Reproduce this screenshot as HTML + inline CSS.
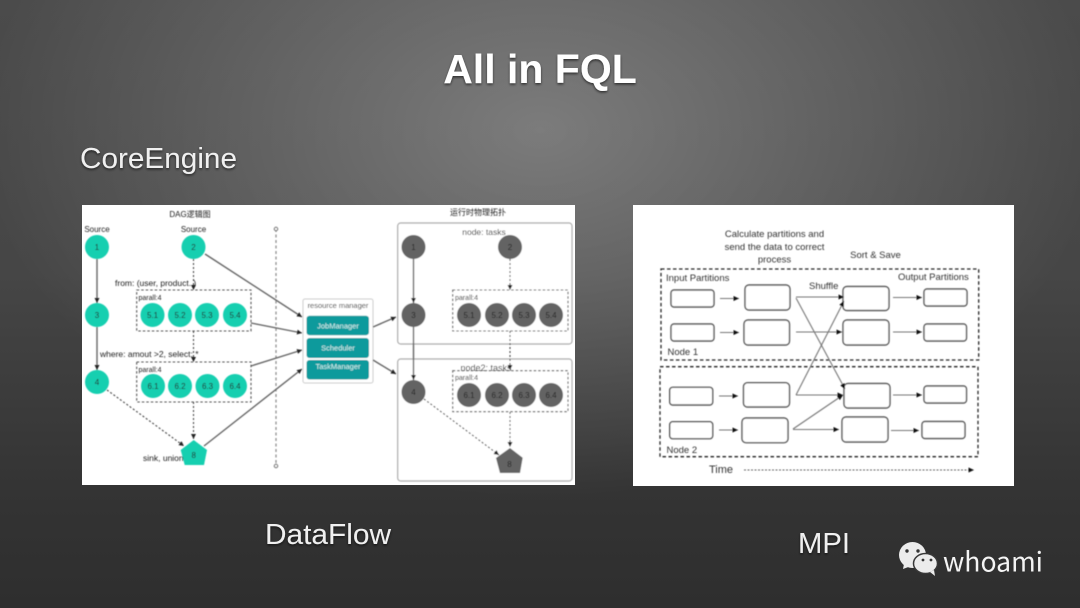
<!DOCTYPE html>
<html><head><meta charset="utf-8"><style>
html,body{margin:0;padding:0;background:#333}
svg{display:block}
text{font-family:"Liberation Sans","Noto Sans CJK SC",sans-serif}
.t{fill:#222;font-size:8px;text-anchor:middle}
.n{fill:#222;font-size:8px;text-anchor:middle}
.l{fill:#222;font-size:8.5px}
.p{fill:#222;font-size:7px}
.d{fill:none;stroke:#555;stroke-width:1.1;stroke-dasharray:2.5 2}
.a{stroke:#666;stroke-width:1.4;fill:none;marker-end:url(#ah)}
.ad{stroke:#444;stroke-width:1.1;fill:none;stroke-dasharray:2 2;marker-end:url(#ah)}
.g{fill:#16cfb0}
.k{fill:#636363}
.b{fill:#0b9a9c}
.bt{fill:#d5f2f0;font-size:7.5px;text-anchor:middle}
.r{fill:#fff;stroke:#555;stroke-width:1.4}
.m{stroke:#777;stroke-width:1.1;fill:none;marker-end:url(#am)}
.mt{fill:#333;font-size:9.5px}
.h{fill:#f0f0f0;filter:url(#sh)}
</style></head><body>
<svg width="1080" height="608" viewBox="0 0 1080 608" xmlns="http://www.w3.org/2000/svg">
<defs>
<linearGradient id="base" x1="0" y1="0" x2="0" y2="1">
<stop offset="0" stop-color="#4b4b4b"/><stop offset=".45" stop-color="#464646"/><stop offset=".8" stop-color="#343434"/><stop offset="1" stop-color="#2e2e2e"/>
</linearGradient>
<radialGradient id="bg" gradientUnits="userSpaceOnUse" cx="0" cy="0" r="1" gradientTransform="translate(540 130) scale(560 370)">
<stop offset="0" stop-color="#fff" stop-opacity=".28"/><stop offset="1" stop-color="#fff" stop-opacity="0"/>
</radialGradient>
<marker id="ah" markerWidth="6" markerHeight="6" refX="5" refY="2.5" orient="auto" markerUnits="userSpaceOnUse"><path d="M0 0L5 2.5L0 5z" fill="#222"/></marker>
<marker id="am" markerWidth="7" markerHeight="6" refX="5.5" refY="2.5" orient="auto" markerUnits="userSpaceOnUse"><path d="M0 0L5.5 2.5L0 5z" fill="#111"/></marker>
<filter id="sh" x="-10%" y="-20%" width="120%" height="150%"><feDropShadow dx="0" dy="1.5" stdDeviation="1.2" flood-color="#000" flood-opacity=".6"/></filter>
<filter id="bl"><feGaussianBlur stdDeviation=".45"/></filter>
</defs>
<rect width="1080" height="608" fill="url(#base)"/>
<rect width="1080" height="608" fill="url(#bg)"/>

<text x="540" y="83" text-anchor="middle" font-size="41" font-weight="700" class="h" style="fill:#fff">All in FQL</text>
<text x="80" y="168" font-size="29" textLength="157" lengthAdjust="spacingAndGlyphs" class="h">CoreEngine</text>
<text x="265" y="544" font-size="29" textLength="126" lengthAdjust="spacingAndGlyphs" class="h">DataFlow</text>
<text x="798" y="553" font-size="29" textLength="52" lengthAdjust="spacingAndGlyphs" class="h">MPI</text>

<rect x="82" y="205" width="493" height="280" fill="#fff"/>
<rect x="633" y="205" width="381" height="281" fill="#fff"/>

<g filter="url(#bl)">
<!-- Left DAG -->
<text x="190" y="217" class="t">DAG逻辑图</text>
<text x="97" y="232" class="t">Source</text>
<text x="193.500" y="232" class="t">Source</text>
<line x1="276" y1="229" x2="276" y2="465" stroke="#888" stroke-width="1.200" stroke-dasharray="3 2.500"/>
<circle cx="276" cy="229" r="1.700" fill="#fff" stroke="#666"/>
<circle cx="276" cy="466" r="1.700" fill="#fff" stroke="#666"/>
<path class="a" d="M97 259V303"/>
<path class="a" d="M97 327V370"/>
<path class="ad" d="M193.500 259V290"/>
<path class="ad" d="M193.500 331V362"/>
<path class="ad" d="M193.500 402V439"/>
<path class="ad" d="M107 390L184 446"/>
<path class="a" d="M205 254L302 317"/>
<path class="a" d="M251 323L302 333"/>
<path class="a" d="M251 366L302 350"/>
<path class="a" d="M204 446L302 369"/>
<text x="115" y="286" class="l">from: (user, product..)</text>
<text x="100" y="357" class="l">where: amout &gt;2, select: *</text>
<rect class="d" x="136.700" y="290" width="114.300" height="41"/>
<rect class="d" x="136.700" y="362" width="114.300" height="40"/>
<text x="138.500" y="300" class="p">parall:4</text>
<text x="138.500" y="372" class="p">parall:4</text>
<circle class="g" cx="97" cy="247" r="12"/><text x="97" y="250" class="n">1</text>
<circle class="g" cx="193.500" cy="247" r="12"/><text x="193.500" y="250" class="n">2</text>
<circle class="g" cx="97" cy="315" r="12"/><text x="97" y="318" class="n">3</text>
<circle class="g" cx="97" cy="382" r="12"/><text x="97" y="385" class="n">4</text>
<circle class="g" cx="152.500" cy="315" r="12"/><text x="152.500" y="318" class="n">5.1</text>
<circle class="g" cx="180" cy="315" r="12"/><text x="180" y="318" class="n">5.2</text>
<circle class="g" cx="207" cy="315" r="12"/><text x="207" y="318" class="n">5.3</text>
<circle class="g" cx="235" cy="315" r="12"/><text x="235" y="318" class="n">5.4</text>
<circle class="g" cx="153" cy="386" r="12"/><text x="153" y="389" class="n">6.1</text>
<circle class="g" cx="180" cy="386" r="12"/><text x="180" y="389" class="n">6.2</text>
<circle class="g" cx="207.500" cy="386" r="12"/><text x="207.500" y="389" class="n">6.3</text>
<circle class="g" cx="235" cy="386" r="12"/><text x="235" y="389" class="n">6.4</text>
<polygon class="g" points="193.700,440 207,450 204,465 184.700,465 180.700,450"/>
<text x="193.700" y="458" class="n">8</text>
<text x="143" y="461" class="l">sink, union</text>

<!-- Resource manager -->
<rect x="303" y="299" width="70" height="84" rx="2" fill="#fff" stroke="#ccc"/>
<text x="338" y="308" font-size="7.500" fill="#333" text-anchor="middle">resource manager</text>
<rect class="b" x="306.500" y="315.700" width="62.500" height="19.500" rx="3"/>
<rect class="b" x="306.500" y="338" width="62.500" height="20" rx="3"/>
<rect class="b" x="306.500" y="360" width="62.500" height="19.500" rx="3"/>
<text x="338" y="328.500" class="bt">JobManager</text>
<text x="338" y="350.500" class="bt">Scheduler</text>
<text x="338" y="369" class="bt">TaskManager</text>
<path class="a" d="M373 327L396 317"/>
<path class="a" d="M373 360L396 374"/>

<!-- Right topology -->
<text x="478" y="215" class="t">运行时物理拓扑</text>
<rect x="397.700" y="223" width="174.300" height="121" rx="3" fill="#fff" stroke="#aaa" stroke-width="1.200"/>
<rect x="397.700" y="359" width="174.300" height="122" rx="3" fill="#fff" stroke="#aaa" stroke-width="1.200"/>
<text x="484" y="235" fill="#333" font-size="8.500" text-anchor="middle">node: tasks</text>
<text x="486" y="371" fill="#333" font-size="9" text-anchor="middle">node2: tasks</text>
<path class="a" d="M413.500 259V303"/>
<path class="a" d="M413.500 327V380"/>
<path class="ad" d="M510 259V290"/>
<path class="ad" d="M510 331V370"/>
<path class="ad" d="M510 412V447"/>
<path class="ad" d="M424 399L499 455"/>
<rect class="d" x="452.700" y="290" width="115.300" height="41"/>
<rect class="d" x="452.700" y="370.700" width="115.300" height="41"/>
<text x="455" y="300" class="p">parall:4</text>
<text x="455" y="380" class="p">parall:4</text>
<circle class="k" cx="413.500" cy="247" r="12"/><text x="413.500" y="250" class="n">1</text>
<circle class="k" cx="510" cy="247" r="12"/><text x="510" y="250" class="n">2</text>
<circle class="k" cx="413.500" cy="315" r="12"/><text x="413.500" y="318" class="n">3</text>
<circle class="k" cx="413.500" cy="392" r="12"/><text x="413.500" y="395" class="n">4</text>
<circle class="k" cx="469" cy="315" r="12"/><text x="469" y="318" class="n">5.1</text>
<circle class="k" cx="497" cy="315" r="12"/><text x="497" y="318" class="n">5.2</text>
<circle class="k" cx="524" cy="315" r="12"/><text x="524" y="318" class="n">5.3</text>
<circle class="k" cx="551" cy="315" r="12"/><text x="551" y="318" class="n">5.4</text>
<circle class="k" cx="469" cy="395" r="12"/><text x="469" y="398" class="n">6.1</text>
<circle class="k" cx="497" cy="395" r="12"/><text x="497" y="398" class="n">6.2</text>
<circle class="k" cx="524" cy="395" r="12"/><text x="524" y="398" class="n">6.3</text>
<circle class="k" cx="551" cy="395" r="12"/><text x="551" y="398" class="n">6.4</text>
<polygon class="k" points="510,448 522.700,457.700 520,473 500,473 496,458"/>
<text x="509.500" y="467" class="n">8</text>

<!-- MPI -->
<text x="774.500" y="237" class="mt" text-anchor="middle">Calculate partitions and</text>
<text x="774.500" y="250" class="mt" text-anchor="middle">send the data to correct</text>
<text x="774.500" y="262.500" class="mt" text-anchor="middle">process</text>
<text x="875.500" y="258" class="mt" text-anchor="middle">Sort &amp; Save</text>
<text x="666" y="281" class="mt">Input Partitions</text>
<text x="898" y="280" class="mt">Output Partitions</text>
<text x="809" y="289" class="mt">Shuffle</text>
<text x="667.500" y="355" class="mt">Node 1</text>
<text x="666.500" y="453" class="mt">Node 2</text>
<text x="709" y="473" fill="#333" font-size="11">Time</text>
<rect x="661" y="269" width="317.700" height="91" fill="none" stroke="#222" stroke-width="1.300" stroke-dasharray="3.500 2.500"/>
<rect x="660" y="366.700" width="318" height="90" fill="none" stroke="#222" stroke-width="1.300" stroke-dasharray="3.500 2.500"/>

<rect class="r" x="671" y="290" width="43" height="17" rx="3"/>
<rect class="r" x="745" y="285" width="45" height="25" rx="4"/>
<rect class="r" x="843" y="286.500" width="46" height="24" rx="4"/>
<rect class="r" x="924" y="289" width="43" height="17" rx="3"/>
<rect class="r" x="671" y="324" width="43" height="17" rx="3"/>
<rect class="r" x="744" y="320" width="45.500" height="25" rx="4"/>
<rect class="r" x="843" y="320" width="46" height="25" rx="4"/>
<rect class="r" x="924" y="324" width="42.500" height="17" rx="3"/>
<rect class="r" x="669.700" y="387.300" width="43" height="17.700" rx="3"/>
<rect class="r" x="743.500" y="382.700" width="46" height="24.300" rx="4"/>
<rect class="r" x="844" y="383.500" width="46" height="24.500" rx="4"/>
<rect class="r" x="924" y="386" width="42.500" height="17" rx="3"/>
<rect class="r" x="669.700" y="421.700" width="43" height="17" rx="3"/>
<rect class="r" x="742" y="418" width="46" height="24.700" rx="4"/>
<rect class="r" x="842" y="417" width="46" height="25" rx="4"/>
<rect class="r" x="922" y="421.500" width="43" height="17" rx="3"/>

<path class="m" d="M720 298.500H739"/>
<path class="m" d="M720 332.500H739"/>
<path class="m" d="M719 396H738"/>
<path class="m" d="M719 430H738"/>
<path class="m" d="M796 297H844"/>
<path class="m" d="M796 332H842"/>
<path class="m" d="M796 395H843"/>
<path class="m" d="M793 429.500H839"/>
<path class="m" d="M796 298L845 389"/>
<path class="m" d="M796 395L844 301"/>
<path class="m" d="M793 429L843 395"/>
<path class="m" d="M893 297.500H922"/>
<path class="m" d="M893 332H922"/>
<path class="m" d="M893 395H922"/>
<path class="m" d="M891 430.500H919"/>
<path d="M744 470H974" stroke="#666" fill="none" stroke-dasharray="2 1.500" marker-end="url(#am)"/>
</g>

<!-- Watermark -->
<g fill="#ececec">
<ellipse cx="912.500" cy="555" rx="13.500" ry="13"/>
<path d="M904 564L903 569L911 566z"/>
<ellipse cx="925.500" cy="563.500" rx="12" ry="10" stroke="#383838" stroke-width="1.500"/>
<path d="M930 572L935 576L934 570z"/>
</g>
<g fill="#333">
<circle cx="907" cy="551" r="1.700"/><circle cx="918" cy="551" r="1.700"/>
<circle cx="923" cy="560" r="1.400"/><circle cx="931" cy="560" r="1.400"/>
</g>
<text x="943" y="571.500" textLength="100" lengthAdjust="spacingAndGlyphs" fill="#f4f4f4" style="font-family:'Noto Sans CJK SC',sans-serif;font-size:27px">whoami</text>
</svg>
</body></html>
